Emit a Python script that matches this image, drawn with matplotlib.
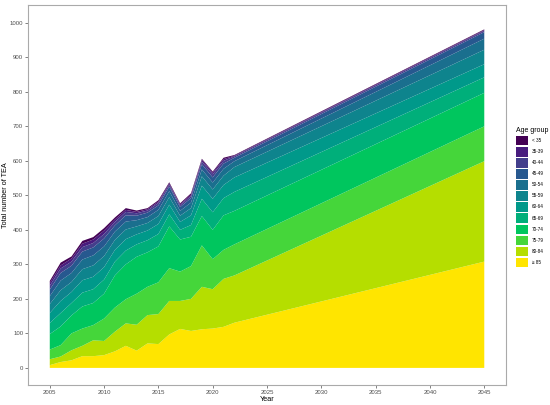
import matplotlib
matplotlib.use('Agg')
import matplotlib.pyplot as plt
from matplotlib.patches import Patch

plt.rcParams['font.family'] = ['Liberation Sans', 'DejaVu Sans']

# jaren (2022-2045 loopt lineair, dus alleen de eindpunten)
years = [2005, 2006, 2007, 2008, 2009, 2010, 2011, 2012, 2013, 2014, 2015,
         2016, 2017, 2018, 2019, 2020, 2021, 2022, 2045]

age_groups = ['< 35', '35-39', '40-44', '45-49', '50-54', '55-59',
              '60-64', '65-69', '70-74', '75-79', '80-84', '≥ 85']

# aantal TEA per leeftijdsgroep
lt35 = [6, 8, 6, 8, 7, 7, 6, 5, 4, 3, 4, 3, 3, 4, 3, 3, 4, 2, 2]
a35_39 = [8, 9, 9, 10, 10, 10, 7, 6, 4, 4, 4, 4, 3, 4, 5, 5, 5, 2, 2]
a40_44 = [11, 13, 12, 13, 13, 13, 10, 10, 7, 6, 7, 6, 5, 6, 8, 9, 8, 4, 4]
a45_49 = [19, 22, 21, 23, 23, 23, 18, 18, 13, 13, 13, 13, 11, 13, 15, 15, 15, 10, 19]
a50_54 = [23, 28, 26, 28, 29, 28, 24, 23, 18, 17, 18, 17, 14, 16, 20, 20, 20, 17, 32]
a55_59 = [26, 31, 29, 32, 33, 32, 29, 28, 23, 22, 23, 22, 18, 21, 27, 27, 27, 30, 42]
a60_64 = [29, 35, 32, 36, 36, 36, 34, 33, 29, 28, 29, 28, 23, 28, 38, 39, 38, 42, 38]
a65_69 = [32, 39, 36, 40, 40, 41, 40, 40, 36, 35, 36, 35, 28, 34, 50, 51, 50, 55, 45]
a70_74 = [45, 54, 52, 64, 64, 72, 93, 101, 107, 100, 104, 121, 93, 85, 85, 85, 100, 97, 97]
a75_79 = [28, 33, 49, 50, 44, 65, 70, 70, 90, 82, 92, 95, 85, 95, 120, 87, 84, 90, 101]
a80_84 = [17, 16, 29, 30, 46, 41, 57, 65, 75, 82, 87, 97, 81, 93, 123, 114, 139, 137, 291]
ge85 = [8, 17, 22, 34, 34, 37, 48, 64, 50, 71, 69, 97, 113, 107, 112, 114, 119, 131, 308]

# viridis, van jong (donker) naar oud (geel)
colors = ['#440154', '#481C7E', '#433F8C', '#27588F', '#1A6F8E', '#0E848D',
          '#00998A', '#00AF7A', '#00C65E', '#45D63A', '#B5DE00', '#FFE500']

series = [lt35, a35_39, a40_44, a45_49, a50_54, a55_59,
          a60_64, a65_69, a70_74, a75_79, a80_84, ge85]

fig = plt.figure(figsize=(5.5, 4.05), dpi=100)
ax = fig.add_axes([0.051, 0.049, 0.869, 0.939])

# oudste groep onderaan
ax.stackplot(years, series[::-1], colors=colors[::-1], linewidth=0)

ax.set_xlim(2003, 2047)
ax.set_ylim(-50, 1052)
ax.set_xticks(range(2005, 2046, 5))
ax.set_yticks(range(0, 1001, 100))
ax.tick_params(axis='both', labelsize=4.3, colors='#4D4D4D', length=2, width=0.5, pad=1.5)
for sp in ax.spines.values():
    sp.set_color('#AAAAAA')
    sp.set_linewidth(0.8)

ax.set_xlabel('Year', fontsize=5.2, labelpad=1)
ax.set_ylabel('Total number of TEA', fontsize=5.2)
ax.yaxis.set_label_coords(-0.04, 0.5)

handles = [Patch(facecolor=c, edgecolor='none') for c in colors]
leg = fig.legend(handles, age_groups, title='Age group', loc='upper left',
                 bbox_to_anchor=(0.935, 0.69), frameon=False, fontsize=3.3,
                 title_fontsize=5, handlelength=2.7, handleheight=2.8,
                 labelspacing=0.35, handletextpad=0.7, borderaxespad=0)
leg._legend_box.align = 'left'

fig.savefig('out.png', dpi=100)
